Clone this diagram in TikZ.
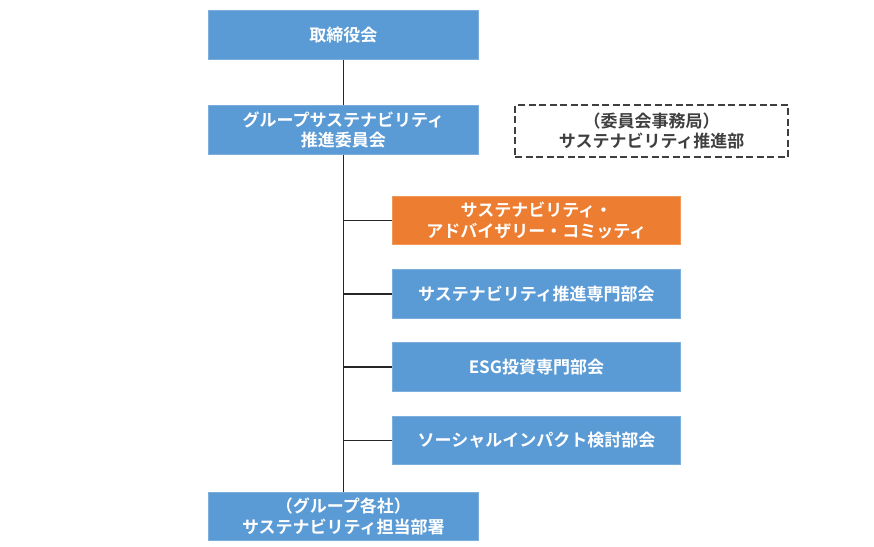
\documentclass[tikz,border=0pt]{standalone}
\usepackage{fontspec}
\setmainfont{Noto Sans CJK JP Bold}
\begin{document}
\begin{tikzpicture}[x=1pt,y=-1pt,
  box/.style={fill=bluebox, draw=bluebox!80!white, line width=0.8pt, text=white, align=center, inner sep=0pt,
    font=\fontsize{17}{20.5}\selectfont, anchor=north west},
  obox/.style={box, fill=orangebox, draw=orangebox!80!white},
  dbox/.style={draw=darkgray, line width=2.3pt, dash pattern=on 7pt off 3.5pt, text=darkgray, align=center, inner sep=0pt,
    font=\fontsize{17}{20.5}\selectfont, anchor=north west},
  conn/.style={draw=black!85, line width=1.3pt}]
\definecolor{bluebox}{HTML}{5B9BD5}
\definecolor{orangebox}{HTML}{ED7D31}
\definecolor{darkgray}{HTML}{3F3F3F}
\useasboundingbox (0,0) rectangle (874,546);
\node[box, minimum width=270pt, minimum height=49pt] (board) at (208,10) {取締役会};
\node[box, minimum width=270pt, minimum height=49pt] (comm) at (208,105) {グループサステナビリティ\\推進委員会};
\node[dbox, minimum width=273pt, minimum height=52pt] (sec) at (514,104) {（委員会事務局）\\サステナビリティ推進部};
\node[obox, minimum width=288pt, minimum height=48pt] (adv) at (392,196) {サステナビリティ・\\アドバイザリー・コミッティ};
\node[box, minimum width=288pt, minimum height=49pt] (pro) at (392,269) {サステナビリティ推進専門部会};
\node[box, minimum width=288pt, minimum height=49pt] (esg) at (392,342) {ESG投資専門部会};
\node[box, minimum width=288pt, minimum height=48pt] (soc) at (392,416) {ソーシャルインパクト検討部会};
\node[box, minimum width=270pt, minimum height=48pt] (grp) at (208,492) {（グループ各社）\\サステナビリティ担当部署};
\draw[conn] (board.south) -- (comm.north);
\draw[conn] (comm.south) -- (grp.north);
\draw[conn] (comm.south |- adv.west) -- (adv.west);
\draw[conn] (comm.south |- pro.west) -- (pro.west);
\draw[conn] (comm.south |- esg.west) -- (esg.west);
\draw[conn] (comm.south |- soc.west) -- (soc.west);
\end{tikzpicture}
\end{document}
